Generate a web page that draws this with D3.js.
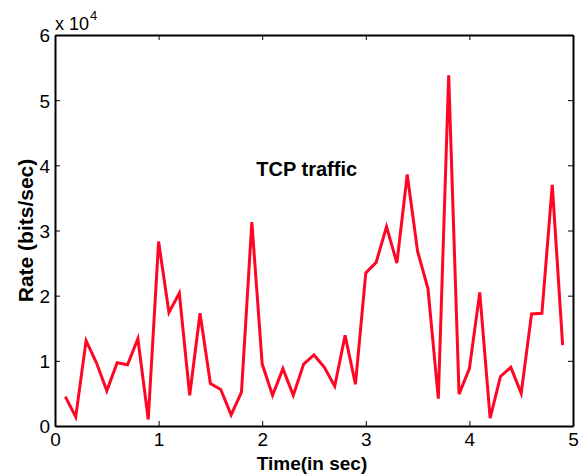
<!DOCTYPE html>
<html><head><meta charset="utf-8">
<script src="https://cdn.jsdelivr.net/npm/d3@7"></script>
<style>body{margin:0;background:#fff;}svg{display:block;font-family:"Liberation Sans",Arial,sans-serif;}</style>
</head><body>
<svg id="c" width="585" height="474"></svg>
<script>
const times = [0.1,0.2,0.3,0.4,0.5,0.6,0.7,0.8,0.9,1.0,1.1,1.2,1.3,1.4,1.5,1.6,1.7,1.8,1.9,2.0,2.1,2.2,2.3,2.4,2.5,2.6,2.7,2.8,2.9,3.0,3.1,3.2,3.3,3.4,3.5,3.6,3.7,3.8,3.9,4.0,4.1,4.2,4.3,4.4,4.5,4.6,4.7,4.8,4.9];
const rates = [0.45,0.14,1.31,0.97,0.54,0.97,0.94,1.34,0.10,2.83,1.74,2.04,0.47,1.73,0.65,0.56,0.17,0.52,3.13,0.95,0.47,0.88,0.47,0.95,1.09,0.90,0.61,1.39,0.64,2.35,2.51,3.06,2.50,3.86,2.68,2.11,0.42,5.38,0.49,0.88,2.05,0.12,0.76,0.90,0.50,1.72,1.73,3.70,1.24].map(v=>v*1e4);
const xTicks = [0,1,2,3,4,5];
const yTicks = [0,1,2,3,4,5,6];
const chartTitle = "TCP traffic";
const xLabel = "Time(in sec)";
const yLabel = "Rate (bits/sec)";

const L=55,R=573,T=35,B=426;
const svg=d3.select("#c");
const x=d3.scaleLinear().domain([0,5]).range([L,R]);
const y=d3.scaleLinear().domain([0,6e4]).range([B,T]);
const tickFont="19px";

const line=d3.line().x((d,i)=>x(times[i])).y(d=>y(d));
svg.append("path").datum(rates).attr("d",line).attr("fill","none")
  .attr("stroke","#ff0624").attr("stroke-width",3).attr("stroke-linejoin","miter");

// axes
const gx=svg.append("g").attr("transform",`translate(0,${B})`)
  .call(d3.axisBottom(x).tickValues(xTicks).tickFormat(d3.format("d")).tickSizeInner(-5).tickSizeOuter(0).tickPadding(7));
const gxt=svg.append("g").attr("transform",`translate(0,${T})`)
  .call(d3.axisTop(x).tickValues(xTicks).tickFormat("").tickSizeInner(-5).tickSizeOuter(0));
const gy=svg.append("g").attr("transform",`translate(${L},0)`)
  .call(d3.axisLeft(y).tickValues(yTicks.map(v=>v*1e4)).tickFormat(d=>d/1e4).tickSizeInner(-5).tickSizeOuter(0).tickPadding(5));
const gyr=svg.append("g").attr("transform",`translate(${R},0)`)
  .call(d3.axisRight(y).tickValues(yTicks.map(v=>v*1e4)).tickFormat("").tickSizeInner(-5).tickSizeOuter(0));
[gx,gxt,gy,gyr].forEach(g=>{
  g.selectAll("path.domain").attr("stroke","#000").attr("stroke-width",2);
  g.selectAll(".tick line").attr("stroke","#000").attr("stroke-width",1);
  g.selectAll("text").attr("fill","#000").style("font-size",tickFont).style("font-family","Liberation Sans, Arial, sans-serif");
});
gy.selectAll("text").attr("dy","0.36em");

// exponent
const ex=svg.append("text").attr("x",L).attr("y",30).attr("font-size","18px").attr("fill","#000");
ex.append("tspan").text("x 10");
ex.append("tspan").attr("dy",-10).attr("dx",1).attr("font-size","13px").text("4");

svg.append("text").attr("x",x(2.43)).attr("y",y(3.83e4)).attr("text-anchor","middle")
  .attr("font-size","20px").attr("font-weight","bold").text(chartTitle);
svg.append("text").attr("x",312).attr("y",470).attr("text-anchor","middle")
  .attr("font-size","19px").attr("font-weight","bold").text(xLabel);
svg.append("text").attr("transform",`translate(33,${(T+B)/2}) rotate(-90)`).attr("text-anchor","middle")
  .attr("font-size","21px").attr("font-weight","bold").text(yLabel);
</script>
</body></html>
